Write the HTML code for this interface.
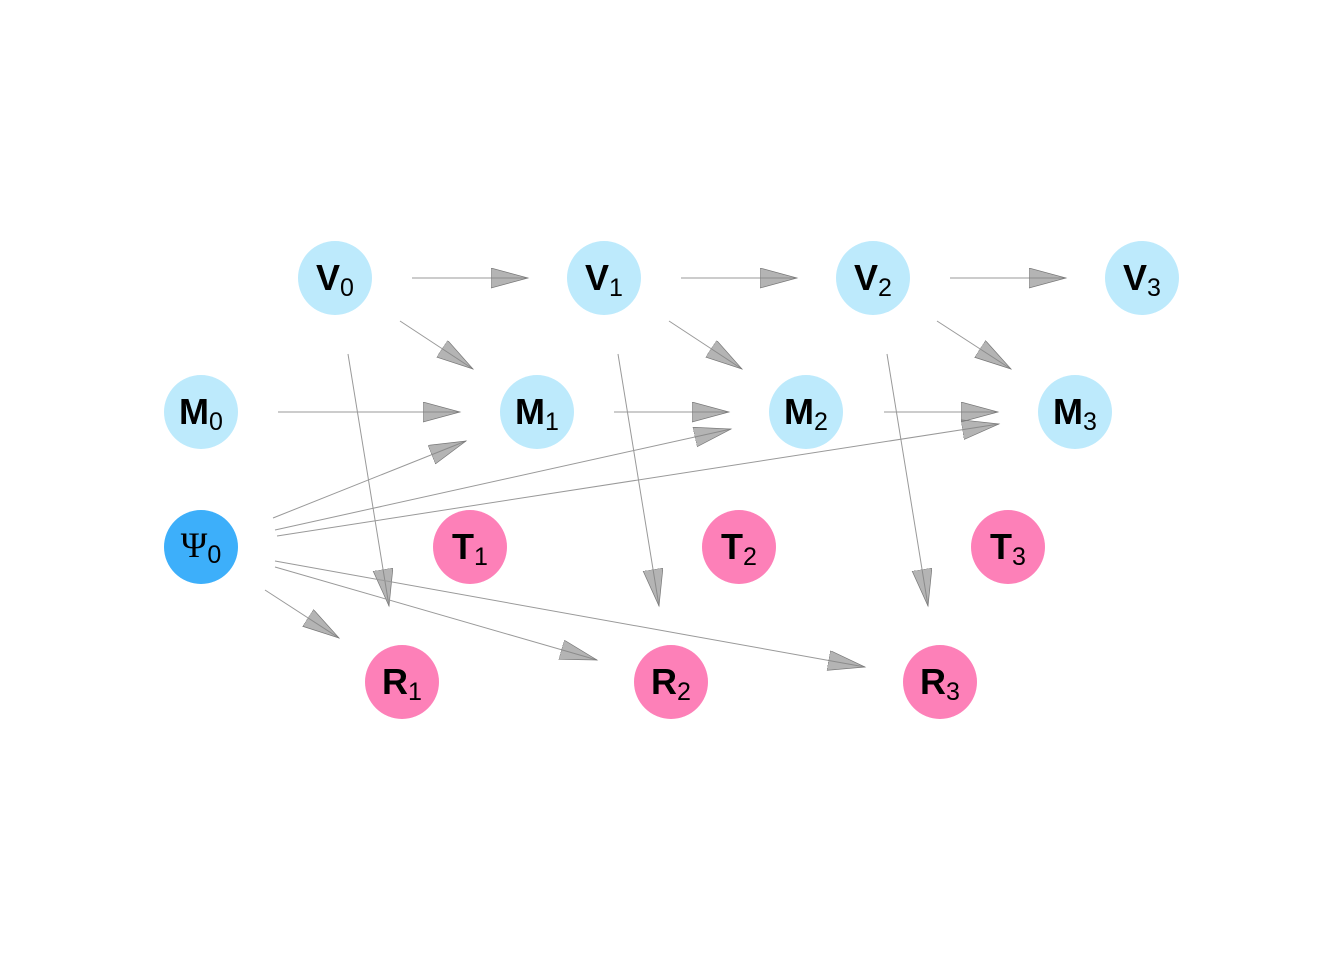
<!DOCTYPE html>
<html><head><meta charset="utf-8"><style>body{margin:0;background:#fff}svg{display:block}</style></head><body>
<svg width="1344" height="960" viewBox="0 0 1344 960" xmlns="http://www.w3.org/2000/svg">
<defs><marker id="a" markerUnits="userSpaceOnUse" markerWidth="40" markerHeight="24" refX="37" refY="10" orient="auto"><path d="M0,0 L37,10 L0,20 Z" fill="rgba(130,130,130,0.6)" stroke="#777" stroke-width="0.7"/></marker></defs>
<g stroke="#999" stroke-width="1" marker-end="url(#a)" fill="none">
<line x1="412" y1="278" x2="528" y2="278"/>
<line x1="681" y1="278" x2="797" y2="278"/>
<line x1="950" y1="278" x2="1066" y2="278"/>
<line x1="400" y1="321" x2="473" y2="369"/>
<line x1="669" y1="321" x2="742" y2="369"/>
<line x1="937" y1="321" x2="1011" y2="369"/>
<line x1="348" y1="354" x2="389" y2="606"/>
<line x1="618" y1="354" x2="659" y2="606"/>
<line x1="887" y1="354" x2="928" y2="606"/>
<line x1="278" y1="412" x2="460" y2="412"/>
<line x1="614" y1="412" x2="729" y2="412"/>
<line x1="884" y1="412" x2="998" y2="412"/>
<line x1="273" y1="518" x2="466" y2="441"/>
<line x1="275" y1="530" x2="731" y2="429"/>
<line x1="277" y1="536" x2="999" y2="424"/>
<line x1="265" y1="590" x2="339" y2="638"/>
<line x1="275" y1="567" x2="597" y2="660"/>
<line x1="275" y1="561" x2="865" y2="667"/>
</g>
<g font-family="Liberation Sans, sans-serif">
<g fill="#bdeafc">
<circle cx="335" cy="278" r="37"/><circle cx="604" cy="278" r="37"/><circle cx="873" cy="278" r="37"/><circle cx="1142" cy="278" r="37"/>
<circle cx="201" cy="412" r="37"/><circle cx="537" cy="412" r="37"/><circle cx="806" cy="412" r="37"/><circle cx="1075" cy="412" r="37"/>
</g>
<circle cx="201" cy="547" r="37" fill="#3daffa"/>
<g fill="#fd80b8">
<circle cx="470" cy="547" r="37"/><circle cx="739" cy="547" r="37"/><circle cx="1008" cy="547" r="37"/>
<circle cx="402" cy="682" r="37"/><circle cx="671" cy="682" r="37"/><circle cx="940" cy="682" r="37"/>
</g>
<g fill="#000" text-anchor="middle">
<text x="335" y="290" font-size="36"><tspan font-weight="bold">V</tspan><tspan font-size="25" dy="6">0</tspan></text>
<text x="604" y="290" font-size="36"><tspan font-weight="bold">V</tspan><tspan font-size="25" dy="6">1</tspan></text>
<text x="873" y="290" font-size="36"><tspan font-weight="bold">V</tspan><tspan font-size="25" dy="6">2</tspan></text>
<text x="1142" y="290" font-size="36"><tspan font-weight="bold">V</tspan><tspan font-size="25" dy="6">3</tspan></text>
<text x="201" y="424" font-size="36"><tspan font-weight="bold">M</tspan><tspan font-size="25" dy="6">0</tspan></text>
<text x="537" y="424" font-size="36"><tspan font-weight="bold">M</tspan><tspan font-size="25" dy="6">1</tspan></text>
<text x="806" y="424" font-size="36"><tspan font-weight="bold">M</tspan><tspan font-size="25" dy="6">2</tspan></text>
<text x="1075" y="424" font-size="36"><tspan font-weight="bold">M</tspan><tspan font-size="25" dy="6">3</tspan></text>
<text x="201" y="557" font-size="36"><tspan font-family="Liberation Serif, serif">Ψ</tspan><tspan font-size="25" dy="6">0</tspan></text>
<text x="470" y="559" font-size="36"><tspan font-weight="bold">T</tspan><tspan font-size="25" dy="6">1</tspan></text>
<text x="739" y="559" font-size="36"><tspan font-weight="bold">T</tspan><tspan font-size="25" dy="6">2</tspan></text>
<text x="1008" y="559" font-size="36"><tspan font-weight="bold">T</tspan><tspan font-size="25" dy="6">3</tspan></text>
<text x="402" y="694" font-size="36"><tspan font-weight="bold">R</tspan><tspan font-size="25" dy="6">1</tspan></text>
<text x="671" y="694" font-size="36"><tspan font-weight="bold">R</tspan><tspan font-size="25" dy="6">2</tspan></text>
<text x="940" y="694" font-size="36"><tspan font-weight="bold">R</tspan><tspan font-size="25" dy="6">3</tspan></text>
</g></g>
</svg>
</body></html>
